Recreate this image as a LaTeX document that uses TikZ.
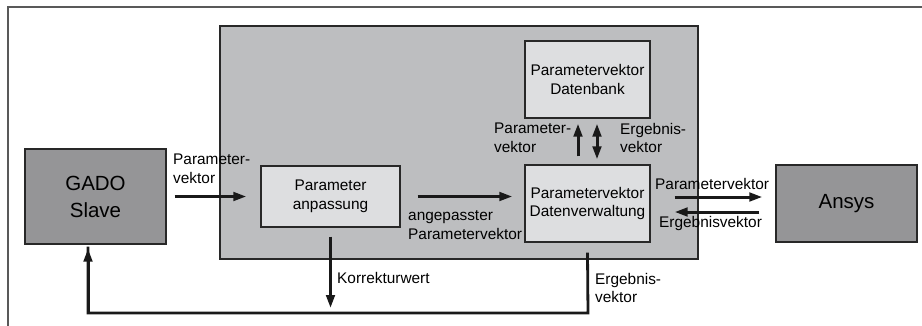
\documentclass[tikz,border=0pt]{standalone}
\usepackage{fontspec}
\setmainfont{Liberation Sans}
\usetikzlibrary{arrows.meta,calc}
\definecolor{bgray}{RGB}{189,190,192}
\definecolor{dgray}{RGB}{149,149,151}
\definecolor{lgray}{RGB}{221,222,224}
\definecolor{edge}{RGB}{40,40,40}
\begin{document}
\begin{tikzpicture}[x=1pt,y=-1pt,
  box/.style={draw=edge,line width=1.3pt,inner sep=0pt,align=center,font=\fontsize{15.4}{18.5}\selectfont},
  darkbox/.style={box,fill=dgray,font=\fontsize{20.5}{27}\selectfont},
  lightbox/.style={box,fill=lgray},
  lbl/.style={inner sep=0pt,align=left,font=\fontsize{15.4}{18.5}\selectfont},
  arr/.style={line width=3pt,draw=black!90,-{Triangle[length=13pt,width=8.5pt]}},
  darr/.style={line width=3pt,draw=black!90,{Triangle[length=13pt,width=8.5pt]}-{Triangle[length=13pt,width=8.5pt]}},
  fb/.style={line width=2.8pt,draw=black!90}]
\useasboundingbox (0,0) rectangle (922,325);
% outer frame (clipped)
\draw[line width=1.3pt,draw=black!65] (8,330) -- (8,7) -- (930,7);
% main gray container
\node[box,fill=bgray,minimum width=478pt,minimum height=233pt] (main) at (459,142.5) {};
% boxes
\node[darkbox,minimum width=141pt,minimum height=95pt] (gado) at (95.5,196.5) {GADO\\Slave};
\node[lightbox,minimum width=139pt,minimum height=61pt] (anp) at (330.5,196.5) {Parameter\\anpassung};
\node[lightbox,minimum width=125pt,minimum height=77pt] (bank) at (587.5,79.5) {Parametervektor\\Datenbank};
\node[lightbox,minimum width=125pt,minimum height=77pt] (verw) at (587.5,203.5) {Parametervektor\\Datenverwaltung};
\node[darkbox,minimum width=141pt,minimum height=77pt] (ansys) at (846.5,203.5) {Ansys};
% feedback coordinates
\coordinate (fb1) at (588,313);
\coordinate (fb2) at (88,313);
% arrows
\draw[arr,shorten <=8pt,shorten >=14pt] (gado.east) -- (anp.west);
\draw[arr,shorten <=17pt,shorten >=12pt] (anp.east) -- (anp.east -| verw.west);
\draw[arr,shorten <=8pt,shorten >=5pt] ([xshift=-9.5pt]verw.north) -- ([xshift=-9.5pt]bank.south);
\draw[darr,shorten <=5pt,shorten >=5pt] ([xshift=9.5pt]bank.south) -- ([xshift=9.5pt]verw.north);
\draw[arr,shorten <=24pt,shorten >=13pt] ([yshift=6.5pt]verw.east) -- ([yshift=6.5pt]ansys.west);
\draw[arr,shorten <=16pt,shorten >=24pt] ([yshift=-8.5pt]ansys.west) -- ([yshift=-8.5pt]verw.east);
\draw[arr,shorten <=9pt,shorten >=5pt] (anp.south) -- (anp.south |- fb2);
\draw[fb] ([yshift=-10pt]verw.south) -- (fb1) -- (fb2) -- ([yshift=-2pt]fb2 |- gado.south);
\draw[arr,shorten >=4pt] ([yshift=-1pt]fb2) -- (fb2 |- gado.south);
% labels
\node[lbl,anchor=west] (l1) at (173,169) {Parameter-\\vektor};
\node[lbl,anchor=west] (l2) at (408,225) {angepasster\\Parametervektor};
\node[lbl,anchor=west] (l3) at (494,138) {Parameter-\\vektor};
\node[lbl,anchor=west] (l4) at (620,138) {Ergebnis-\\vektor};
\node[lbl,anchor=west] (l5) at (655,184) {Parametervektor};
\node[lbl,anchor=west] (l6) at (659,224) {Ergebnisvektor};
\node[lbl,anchor=west] (l7) at (337,278) {Korrekturwert};
\node[lbl,anchor=west] (l8) at (595,288) {Ergebnis-\\vektor};
\end{tikzpicture}
\end{document}
